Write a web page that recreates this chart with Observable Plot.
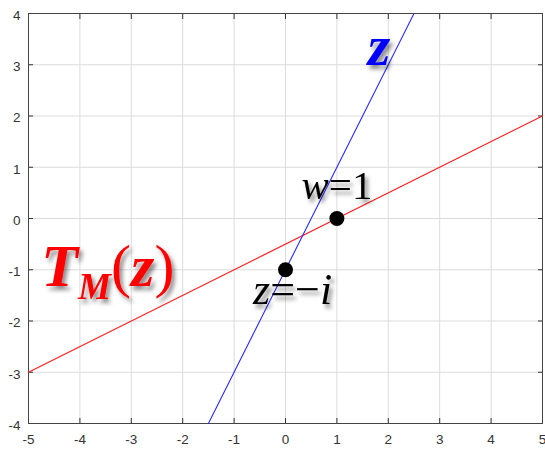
<!DOCTYPE html>
<html><head><meta charset="utf-8">
<script src="https://cdn.jsdelivr.net/npm/d3@7"></script>
<script src="https://cdn.jsdelivr.net/npm/@observablehq/plot@0.6"></script>
<style>
html,body{margin:0;padding:0;background:#fff;}
</style>
</head><body><div id="chart"></div>
<script>
// ---- data ----
const xTicks = [-5, -4, -3, -2, -1, 0, 1, 2, 3, 4, 5];
const yTicks = [-4, -3, -2, -1, 0, 1, 2, 3, 4];
const zLineX = [-1.5, 2.5];
const zLineY = [-4, 4];
const tLineX = [-5, 5];
const tLineY = [-3, 2];
const pointX = [0, 1];
const pointY = [-1, 0];
const labelText = ["z", "w=1", "z=\u2212i", "TM(z)"];
const labelX = [1.6, 0.31, -0.63, -4.75];
const labelY = [3.0, 0.39, -1.66, -1.31];

// ---- tables built from the arrays ----
const zLine = zLineX.map((x, i) => ({x, y: zLineY[i]}));
const tLine = tLineX.map((x, i) => ({x, y: tLineY[i]}));
const points = pointX.map((x, i) => ({x, y: pointY[i]}));
const labels = labelText.map((t, i) => ({x: labelX[i], y: labelY[i], t}));

const serif = "'Liberation Serif','Times New Roman',serif";
const labelColor = ["#0000ff", "#000", "#000", "#ff0000"];
const labelSize = [58, 41, 44, 60];
const fmt = d => String(d);

const textMark = (i) => Plot.text([labels[i]], {
  x: "x", y: "y", text: "t", textAnchor: "start", lineAnchor: "bottom",
  fill: labelColor[i], fontSize: labelSize[i], fontFamily: serif
});

const plot = Plot.plot({
  width: 545, height: 449,
  marginLeft: 28, marginRight: 3, marginTop: 13, marginBottom: 26,
  x: {domain: [-5, 5]},
  y: {domain: [-4, 4]},
  style: {fontFamily: "'Liberation Sans', Arial, sans-serif", fontSize: "13.5px", color: "#333", background: "#fff"},
  marks: [
    Plot.gridX(xTicks, {stroke: "#dcdcdc", strokeOpacity: 1}),
    Plot.gridY(yTicks, {stroke: "#dcdcdc", strokeOpacity: 1}),
    Plot.axisX(xTicks, {anchor: "bottom", tickSize: 0, tickPadding: 11, fill: "#333", label: null, tickFormat: fmt}),
    Plot.axisY(yTicks, {anchor: "left", tickSize: 0, tickPadding: 8, dy: 2, fill: "#333", label: null, tickFormat: fmt}),
    Plot.axisX(xTicks, {anchor: "bottom", tickSize: -5, fill: "none", stroke: "#333", label: null}),
    Plot.axisX(xTicks, {anchor: "top", tickSize: -5, fill: "none", stroke: "#333", label: null}),
    Plot.axisY(yTicks, {anchor: "left", tickSize: -5, fill: "none", stroke: "#333", label: null}),
    Plot.axisY(yTicks, {anchor: "right", tickSize: -5, fill: "none", stroke: "#333", label: null}),
    Plot.frame({stroke: "#444"}),
    Plot.line(tLine, {x: "x", y: "y", stroke: "#ff2020", strokeWidth: 1.2}),
    Plot.line(zLine, {x: "x", y: "y", stroke: "#2a2aff", strokeWidth: 1.1}),
    Plot.dot(points, {x: "x", y: "y", r: 7.5, fill: "#000", stroke: "none"}),
    textMark(0), textMark(1), textMark(2), textMark(3)
  ]
});
document.getElementById("chart").appendChild(plot);

// ---- typographic styling of the labels (italic / subscript pieces) ----
const svg = d3.select(plot);
const defs = svg.insert("defs", ":first-child");
const f = defs.append("filter").attr("id", "sh").attr("x", "-30%").attr("y", "-30%").attr("width", "170%").attr("height", "170%");
f.append("feDropShadow").attr("dx", 3).attr("dy", 4).attr("stdDeviation", 2.2)
  .attr("flood-color", "#000").attr("flood-opacity", 0.45);

// pieces: [start, end, italic, bold, sizeScale, dy]
const pieces = [
  [[0, 1, true, true, 1, 0]],
  [[0, 1, true, false, 1, 0], [1, 3, false, false, 1, 0]],
  [[0, 1, true, false, 1, 0], [1, 3, false, false, 1, 0], [3, 4, true, false, 1, 0]],
  [[0, 1, true, true, 1, 0], [1, 2, true, true, 0.62, 13], [2, 3, false, false, 1, -13], [3, 4, true, true, 1, 0], [4, 5, false, false, 1, 0]]
];
svg.selectAll('g[aria-label="text"]').each(function(d, i) {
  const g = d3.select(this).attr("filter", "url(#sh)");
  g.selectAll("text").each(function() {
    const el = d3.select(this);
    const str = labelText[i];
    el.text(null);
    for (const [a, b, it, bo, sc, dy] of pieces[i]) {
      el.append("tspan").text(str.slice(a, b))
        .attr("font-style", it ? "italic" : "normal")
        .attr("font-weight", bo ? "bold" : "normal")
        .attr("font-size", labelSize[i] * sc)
        .attr("dy", dy);
    }
  });
});
</script>
</body></html>
